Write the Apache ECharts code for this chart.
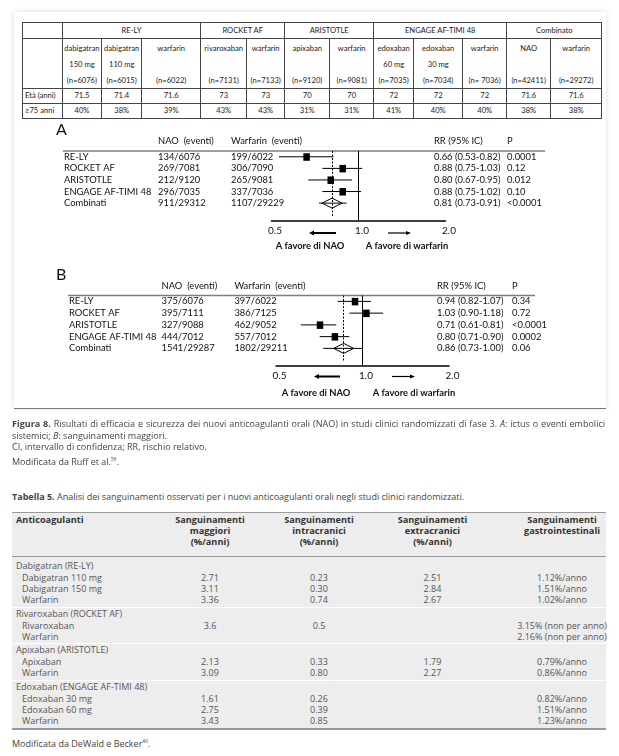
<!DOCTYPE html>
<html><head><meta charset="utf-8">
<script src="https://cdn.jsdelivr.net/npm/echarts@6.0.0/dist/echarts.min.js"></script>
<style>
body{margin:0;width:619px;height:756px;position:relative;overflow:hidden;background:#fff;}
.abs{position:absolute;white-space:nowrap}
#panel{position:absolute;left:14px;top:12px;width:592px;height:396px;background:#fff;box-shadow:0 0 6px rgba(0,0,0,.14);}
#panelLine{position:absolute;left:14px;top:407.5px;width:592px;height:1.5px;background:#7a7a7a}
#t1{position:absolute;left:22px;top:22px;border-collapse:collapse;font:7.6px Lato;color:#222;table-layout:fixed;width:579px}
#t1 td{border:1px solid #444;text-align:center;padding:0;overflow:hidden;white-space:nowrap;line-height:1}
#t1 td.lab{text-align:left;padding-left:2px}
#chart{position:absolute;left:0;top:0;width:619px;height:420px}
.cap{font-family:'Open Sans';font-size:9px;color:#444}
.just{text-align:justify;text-align-last:justify;white-space:normal}
.t5{font-family:'Open Sans';font-size:9px;color:#555}
.t5h{font-family:'Open Sans';font-size:9.2px;color:#333;font-weight:bold;text-align:center;line-height:10.8px}
</style></head>
<body>
<div id="panel"></div>
<div id="panelLine"></div>
<table id="t1"></table>
<div id="chart"></div>
<div id="captions"></div>
<div id="t5"></div>
<script>
// ---------- Top table data ----------
const trialGroups = ['RE-LY','ROCKET AF','ARISTOTLE','ENGAGE AF-TIMI 48','Combinato'];
const trialSpans = [3,2,2,3,2];
const armDrug = ['dabigatran','dabigatran','warfarin','rivaroxaban','warfarin','apixaban','warfarin','edoxaban','edoxaban','warfarin','NAO','warfarin'];
const armDose = ['150 mg','110 mg','','','','','','60 mg','30 mg','','',''];
const armN = ['(n=6076)','(n=6015)','(n=6022)','(n=7131)','(n=7133)','(n=9120)','(n=9081)','(n=7035)','(n=7034)','(n= 7036)','(n=42411)','(n=29272)'];
const ageMean = ['71.5','71.4','71.6','73','73','70','70','72','72','72','71.6','71.6'];
const age75 = ['40%','38%','39%','43%','43%','31%','31%','41%','40%','40%','38%','38%'];
const rowLabels = ['Età (anni)','≥75 anni'];

// ---------- Forest plot data ----------
const studies = ['RE-LY','ROCKET AF','ARISTOTLE','ENGAGE AF-TIMI 48','Combinati'];
const effNAO = ['134/6076','269/7081','212/9120','296/7035','911/29312'];
const effWarf = ['199/6022','306/7090','265/9081','337/7036','1107/29229'];
const effRR = [0.66,0.88,0.80,0.88,0.81];
const effLo = [0.53,0.75,0.67,0.75,0.73];
const effHi = [0.82,1.03,0.95,1.02,0.91];
const effP = ['0.0001','0.12','0.012','0.10','<0.0001'];
const bleNAO = ['375/6076','395/7111','327/9088','444/7012','1541/29287'];
const bleWarf = ['397/6022','386/7125','462/9052','557/7012','1802/29211'];
const bleRR = [0.94,1.03,0.71,0.80,0.86];
const bleLo = [0.82,0.90,0.61,0.71,0.73];
const bleHi = [1.07,1.18,0.81,0.90,1.00];
const bleP = ['0.34','0.72','<0.0001','0.0002','0.06'];
const xTickValues = [0.5,1,2];
const headTexts = ['NAO  (eventi)','Warfarin  (eventi)','RR (95% IC)','P'];
const favTexts = ['A favore di NAO','A favore di warfarin'];

// ---------- Table 5 data ----------
const t5Head = ['Anticoagulanti',['Sanguinamenti','maggiori','(%/anni)'],['Sanguinamenti','intracranici','(%/anni)'],['Sanguinamenti','extracranici','(%/anni)'],['Sanguinamenti','gastrointestinali']];
const t5Groups = ['Dabigatran (RE-LY)','Rivaroxaban (ROCKET AF)','Apixaban (ARISTOTLE)','Edoxaban (ENGAGE AF-TIMI 48)'];
const t5Rows = [
 [['Dabigatran 110 mg','2.71','0.23','2.51','1.12%/anno'],['Dabigatran 150 mg','3.11','0.30','2.84','1.51%/anno'],['Warfarin','3.36','0.74','2.67','1.02%/anno']],
 [['Rivaroxaban','3.6','0.5','','3.15% (non per anno)'],['Warfarin','','','','2.16% (non per anno)']],
 [['Apixaban','2.13','0.33','1.79','0.79%/anno'],['Warfarin','3.09','0.80','2.27','0.86%/anno']],
 [['Edoxaban 30 mg','1.61','0.26','','0.82%/anno'],['Edoxaban 60 mg','2.75','0.39','','1.51%/anno'],['Warfarin','3.43','0.85','','1.23%/anno']]
];

// ---------- Build top table ----------
(function(){
  const colW=[39.7,39.5,40,59,46,38,45,44,40,49,44,44,51];
  let h='<colgroup>'+colW.map(w=>`<col style="width:${w}px">`).join('')+'</colgroup>';
  h+='<tr style="height:16px"><td></td>'+trialGroups.map((g,i)=>`<td colspan="${trialSpans[i]}">${g}</td>`).join('')+'</tr>';
  h+='<tr style="height:50px"><td></td>'+armDrug.map((d,i)=>`<td style="vertical-align:top"><div style="line-height:16px;padding-top:1px">${d}<br>${armDose[i]||'&nbsp;'}<br>${armN[i]}</div></td>`).join('')+'</tr>';
  h+='<tr style="height:15px"><td class="lab">'+rowLabels[0]+'</td>'+ageMean.map(v=>`<td>${v}</td>`).join('')+'</tr>';
  h+='<tr style="height:15px"><td class="lab">'+rowLabels[1]+'</td>'+age75.map(v=>`<td>${v}</td>`).join('')+'</tr>';
  document.getElementById('t1').innerHTML=h;
})();

// ---------- Captions ----------
(function(){
  const c=document.getElementById('captions');
  const lines=[
   [424,'<b>Figura 8.</b> Risultati di efficacia e sicurezza dei nuovi anticoagulanti orali (NAO) in studi clinici randomizzati di fase 3. <i>A</i>: ictus o eventi embolici',true],
   [435.5,'sistemici; <i>B</i>: sanguinamenti maggiori.'],
   [447,'CI, intervallo di confidenza; RR, rischio relativo.'],
   [458.5,'Modificata da Ruff et al.<sup style="font-size:5px">56</sup>.'],
   [497,'<b>Tabella 5.</b> Analisi dei sanguinamenti osservati per i nuovi anticoagulanti orali negli studi clinici randomizzati.'],
   [741,'Modificata da DeWald e Becker<sup style="font-size:5px">40</sup>.']
  ];
  c.innerHTML=lines.map(l=>`<div class="abs cap${l[2]?' just':''}" style="left:12px;top:${l[0]-7}px;line-height:14px;${l[2]?'width:593px;height:14px;overflow:hidden':''}">${l[1]}</div>`).join('');
})();

// ---------- Table 5 ----------
(function(){
  const el=document.getElementById('t5');
  const colX=[null,210,319,432.5,562];
  let h=`<div class="abs" style="left:12px;top:512px;width:594px;height:217px;background:#ededed;border-top:1px solid #999"></div>`;
  h+=`<div class="abs" style="left:12px;top:556px;width:594px;height:1px;background:#999"></div>`;
  h+=`<div class="abs" style="left:12px;top:728px;width:594px;height:2px;background:#9a9a9a"></div>`;
  h+=`<div class="abs t5h" style="left:16px;top:515px;text-align:left">${t5Head[0]}</div>`;
  for(let j=1;j<5;j++) h+=`<div class="abs t5h" style="left:${colX[j]-60}px;width:120px;top:515px">${t5Head[j].join('<br>')}</div>`;
  let y=566;
  t5Groups.forEach((g,gi)=>{
    if(gi>0){ h+=`<div class="abs" style="left:12px;top:${y-7}px;width:594px;height:1px;background:#fff"></div>`; }
    h+=`<div class="abs t5" style="left:16px;top:${y-6}px;line-height:12px">${g}</div>`;
    y+=12;
    t5Rows[gi].forEach(r=>{
      h+=`<div class="abs t5" style="left:22px;top:${y-6}px;line-height:12px">${r[0]}</div>`;
      for(let j=1;j<5;j++) if(r[j]) h+=`<div class="abs t5" style="left:${colX[j]-70}px;width:140px;text-align:center;top:${y-6}px;line-height:12px">${r[j]}</div>`;
      y+=11;
    });
    y+=2.5;
  });
  el.innerHTML=h;
})();

// ---------- Forest plots ----------
const LAYOUT = {
  A:{grid:{left:271.5,top:151,width:174,height:69.5}, cols:[64,158,231,434,507], headY:141, lineX:[63,545], letter:[56,131], arrowY:233, favY:245.5, favX:[310,407], arrL:[336,309], arrR:[388,411]},
  B:{grid:{left:276,top:295.5,width:173,height:70.5}, cols:[69,161.5,234.4,437,512], headY:285.5, lineX:[68,535], letter:[56,276], arrowY:376.5, favY:392.5, favX:[316,414], arrL:[340,314], arrR:[392,415]}
};
const panels=[
  {key:'A',nao:effNAO,warf:effWarf,rr:effRR,lo:effLo,hi:effHi,p:effP},
  {key:'B',nao:bleNAO,warf:bleWarf,rr:bleRR,lo:bleLo,hi:bleHi,p:bleP}
];
const FONT='Lato';
const FS=9.4;
function fmt(v){return v.toFixed(2);}
const grids=[],xAxes=[],yAxes=[],series=[],graphics=[];
panels.forEach((P,i)=>{
  const L=LAYOUT[P.key];
  grids.push(L.grid);
  xAxes.push({gridIndex:i,type:'log',logBase:2,min:xTickValues[0],max:xTickValues[xTickValues.length-1],
    axisLine:{show:true,onZero:false,lineStyle:{color:'#000',width:1.5}},axisTick:{show:false},splitLine:{show:false},
    axisLabel:{formatter:v=>Number(v).toFixed(1),fontFamily:FONT,fontSize:10,color:'#111',margin:5,padding:[0,0,0,7]}});
  yAxes.push({gridIndex:i,type:'value',inverse:true,min:0.5,max:6.5,show:false});
  const combIdx=studies.length-1;
  series.push({type:'custom',xAxisIndex:i,yAxisIndex:i,clip:false,silent:true,
    data:P.rr.map((v,k)=>[v,P.lo[k],P.hi[k],k+1,k===combIdx?1:0]),
    encode:{x:[0,1,2],y:3},
    renderItem:(params,api)=>{
      const row=api.value(3);
      const y=api.coord([1,row])[1];
      const xc=api.coord([api.value(0),row])[0];
      const xl=api.coord([api.value(1),row])[0];
      const xh=api.coord([api.value(2),row])[0];
      const ch=[{type:'line',shape:{x1:xl,y1:y,x2:xh,y2:y},style:{stroke:'#000',lineWidth:1}}];
      if(api.value(4)) ch.push({type:'polygon',shape:{points:[[xc-10,y],[xc,y-5],[xc+10,y],[xc,y+5]]},style:{fill:'rgba(255,255,255,0)',stroke:'#000',lineWidth:1}});
      else ch.push({type:'rect',shape:{x:xc-3,y:y-3.5,width:6.5,height:7.5},style:{fill:'#000'}});
      return {type:'group',children:ch};
    },
    markLine:{silent:true,symbol:'none',label:{show:false},animation:false,
      data:[{xAxis:1,lineStyle:{color:'#000',width:1,type:'solid'}},
            [{coord:[P.rr[combIdx],0.5],lineStyle:{color:'#000',width:1,type:[2,1.5]}},{coord:[P.rr[combIdx],6.15]}]]}
  });
  series.push({type:'custom',xAxisIndex:i,yAxisIndex:i,clip:false,silent:true,
    data:studies.map((s,k)=>[1,k+1]),
    renderItem:(params,api)=>{
      const k=params.dataIndex;
      const y=api.coord([1,api.value(1)])[1];
      const vals=[studies[k],P.nao[k],P.warf[k],`${fmt(P.rr[k])} (${fmt(P.lo[k])}-${fmt(P.hi[k])})`,P.p[k]];
      return {type:'group',children:vals.map((t,j)=>({type:'text',x:L.cols[j],y:y,
        style:{text:t,fill:'#111',font:`${FS}px ${FONT}`,textAlign:'left',textVerticalAlign:'middle'}}))};
    }
  });
  graphics.push({type:'text',left:L.letter[0],top:L.letter[1]-9,style:{text:P.key,font:`16px ${FONT}`,fill:'#111'}});
  [1,2,3,4].forEach((c,j)=>graphics.push({type:'text',x:L.cols[c],y:L.headY,style:{text:headTexts[j],font:`${FS}px ${FONT}`,fill:'#111',textAlign:'left',textVerticalAlign:'middle'}}));
  graphics.push({type:'line',shape:{x1:L.lineX[0],y1:L.grid.top,x2:L.lineX[1],y2:L.grid.top},style:{stroke:'#7d7d7d',lineWidth:1.5}});
  // arrows
  const ay=L.arrowY;
  graphics.push({type:'line',shape:{x1:L.arrL[0],y1:ay,x2:L.arrL[1]+4,y2:ay},style:{stroke:'#000',lineWidth:2}});
  graphics.push({type:'polygon',shape:{points:[[L.arrL[1],ay],[L.arrL[1]+5,ay-2.5],[L.arrL[1]+5,ay+2.5]]},style:{fill:'#000'}});
  graphics.push({type:'line',shape:{x1:L.arrR[0],y1:ay,x2:L.arrR[1]-4,y2:ay},style:{stroke:'#000',lineWidth:1.2}});
  graphics.push({type:'polygon',shape:{points:[[L.arrR[1],ay],[L.arrR[1]-5,ay-2],[L.arrR[1]-5,ay+2]]},style:{fill:'#000'}});
  favTexts.forEach((t,j)=>graphics.push({type:'text',x:L.favX[j],y:L.favY,style:{text:t,font:`bold ${FS}px ${FONT}`,fill:'#111',textAlign:'center',textVerticalAlign:'middle'}}));
});
const chart=echarts.init(document.getElementById('chart'),null,{renderer:'canvas'});
chart.setOption({animation:false,backgroundColor:'transparent',grid:grids,xAxis:xAxes,yAxis:yAxes,series:series,graphic:graphics});
</script>
</body></html>
